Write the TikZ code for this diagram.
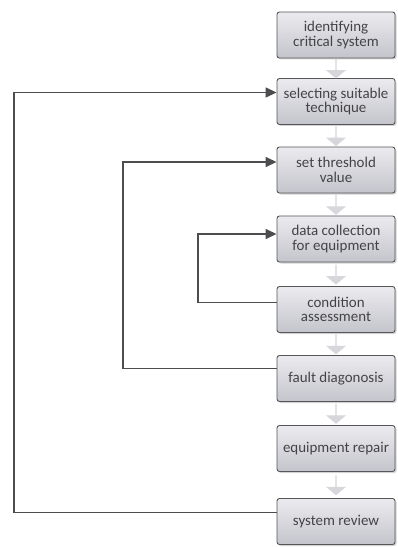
\documentclass[tikz,border=0pt]{standalone}
\usepackage{fontspec}
\setmainfont{Carlito}
\usetikzlibrary{arrows.meta,shapes.arrows,shadows}
\definecolor{boxtop}{HTML}{EBEBEF}
\definecolor{boxbot}{HTML}{C4C4CC}
\definecolor{boxline}{HTML}{55555A}
\definecolor{txt}{HTML}{434347}
\definecolor{link}{HTML}{4D4D4F}
\definecolor{flow}{HTML}{D6D6DB}
\tikzset{
  stepbox/.style={rectangle, rounded corners=2.5bp, draw=boxline, line width=0.9bp,
    top color=boxtop, bottom color=boxbot, minimum width=118bp, minimum height=46bp,
    align=center, text=txt, font=\fontsize{15}{14.5}\selectfont, inner sep=1bp,
    drop shadow={shadow xshift=1.5bp, shadow yshift=-1.5bp, opacity=0.35}},
  flowarrow/.style={single arrow, fill=flow, draw=none, rotate=-90,
    minimum width=20bp, single arrow head extend=3bp, single arrow tip angle=100,
    minimum height=20bp, inner sep=0pt},
  loopline/.style={draw=link, line width=1.5bp, -{Triangle[length=11bp,width=10bp]}}
}
\begin{document}
\begin{tikzpicture}[x=1bp,y=-1bp]
\useasboundingbox (0,0) rectangle (397,547);
% process steps
\node[stepbox] (b1) at (336,35)    {identifying\\critical system};
\node[stepbox] (b2) at (336,101.5) {selecting suitable\\technique};
\node[stepbox] (b3) at (336,170)   {set threshold\\value};
\node[stepbox] (b4) at (336,239)   {data collection\\for equipment};
\node[stepbox] (b5) at (336,309.5) {condition\\assessment};
\node[stepbox] (b6) at (336,378.5) {fault diagonosis};
\node[stepbox] (b7) at (336,448.5) {equipment repair};
\node[stepbox] (b8) at (336,521.5) {system review};
% flow arrows between consecutive steps
\foreach \a/\b in {b1/b2,b2/b3,b3/b4,b4/b5,b5/b6,b6/b7,b7/b8}{
  \path (\a.south) -- (\b.north) node[midway, flowarrow] {};
}
% attachment points on the left of the steps
\coordinate (a2) at ([yshift=9bp]b2.west);
\coordinate (a3) at ([yshift=8bp]b3.west);
\coordinate (a4) at ([yshift=5bp]b4.west);
\coordinate (a5) at ([yshift=7bp]b5.west);
\coordinate (a6) at ([yshift=10bp]b6.west);
\coordinate (a8) at ([yshift=9bp]b8.west);
% x positions of the feedback loops
\coordinate (xo) at (14,0);
\coordinate (xm) at (123,0);
\coordinate (xi) at (198,0);
% feedback loops
\draw[loopline] (a8) -- (a8 -| xo) -- (a2 -| xo) -- (a2);
\draw[loopline] (a6) -- (a6 -| xm) -- (a3 -| xm) -- (a3);
\draw[loopline] (a5) -- (a5 -| xi) -- (a4 -| xi) -- (a4);
\end{tikzpicture}
\end{document}
